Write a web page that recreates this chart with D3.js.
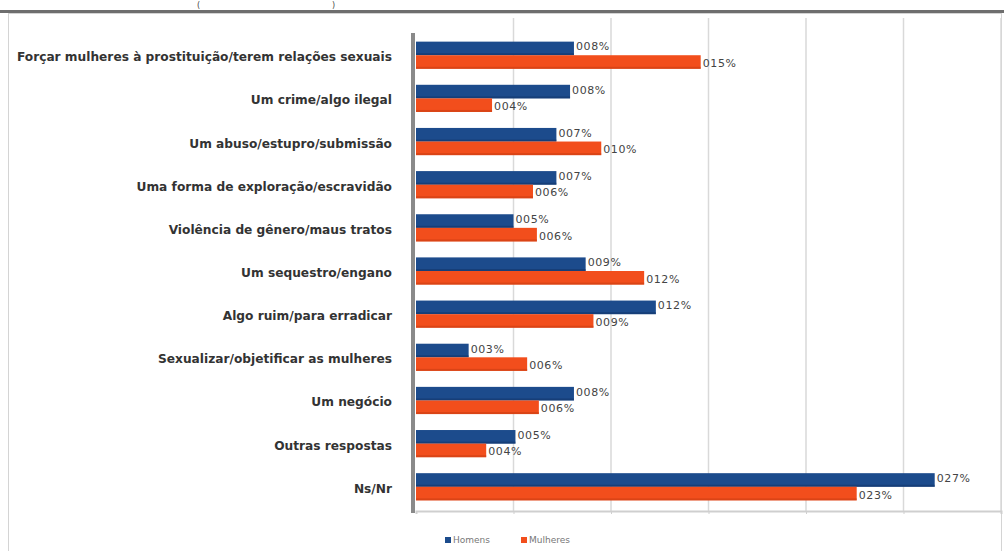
<!DOCTYPE html>
<html><head><meta charset="utf-8">
<script src="https://cdn.jsdelivr.net/npm/d3@7"></script>
<style>body{margin:0;background:#fff}svg{display:block}</style>
</head><body>
<svg id="c" width="1004" height="551"></svg>
<script>
const categories = [
  "Forçar mulheres à prostituição/terem relações sexuais",
  "Um crime/algo ilegal",
  "Um abuso/estupro/submissão",
  "Uma forma de exploração/escravidão",
  "Violência de gênero/maus tratos",
  "Um sequestro/engano",
  "Algo ruim/para erradicar",
  "Sexualizar/objetificar as mulheres",
  "Um negócio",
  "Outras respostas",
  "Ns/Nr"
];
const seriesNames = ["Homens", "Mulheres"];
const homens   = [8.1, 7.9, 7.2, 7.2, 5.0, 8.7, 12.3, 2.7, 8.1, 5.1, 26.6];
const mulheres = [14.6, 3.9, 9.5, 6.0, 6.2, 11.7, 9.1, 5.7, 6.3, 3.6, 22.6];
const homensLabels   = ["008%","008%","007%","007%","005%","009%","012%","003%","008%","005%","027%"];
const mulheresLabels = ["015%","004%","010%","006%","006%","012%","009%","006%","006%","004%","023%"];
const xTicks = [0, 5, 10, 15, 20, 25, 30];
const colors = ["#1c4b8c", "#f24e1c"];

const svg = d3.select("#c");
// frame
svg.append("rect").attr("x", 8.5).attr("y", 13.5).attr("width", 993).attr("height", 545)
  .attr("fill", "#fff").attr("stroke", "#d4d4d4");
svg.append("rect").attr("x", 0).attr("y", 10).attr("width", 1004).attr("height", 3).attr("fill", "#6e6e6e");
svg.append("text").attr("x", 197).attr("y", 8).attr("font-family", "DejaVu Sans").attr("font-size", 8).attr("fill", "#444").text("(");
svg.append("text").attr("x", 332).attr("y", 8).attr("font-family", "DejaVu Sans").attr("font-size", 8).attr("fill", "#444").text(")");

const x = d3.scaleLinear().domain([0, 30]).range([416, 1001]);
const y = d3.scaleBand().domain(categories).range([33, 509]).paddingInner(0.37).paddingOuter(0.2);
const ys = d3.scaleBand().domain(seriesNames).range([0, y.bandwidth()]);

// gridlines
svg.append("g").selectAll("line").data(xTicks.slice(1)).join("line")
  .attr("x1", d => x(d)).attr("x2", d => x(d)).attr("y1", 18).attr("y2", 511)
  .attr("stroke", "#d9d9d9").attr("stroke-width", 1.5);

// bottom axis
const ax = svg.append("g").attr("transform", "translate(0,511)")
  .call(d3.axisBottom(x).tickValues(xTicks).tickSize(3).tickFormat(""));
ax.select(".domain").attr("stroke", "#cfcfcf").attr("stroke-width", 2);
ax.selectAll(".tick line").attr("stroke", "#cfcfcf");
// left axis wall
svg.append("rect").attr("x", 411).attr("y", 33).attr("width", 4).attr("height", 480).attr("fill", "#8a8a8a");

const data = categories.map((c, i) => ({c, v: [homens[i], mulheres[i]], l: [homensLabels[i], mulheresLabels[i]]}));
const g = svg.append("g");
data.forEach(d => {
  seriesNames.forEach((s, j) => {
    const yy = y(d.c) + ys(s);
    g.append("rect").attr("x", x(0)).attr("y", yy).attr("width", x(d.v[j]) - x(0)).attr("height", ys.bandwidth())
      .attr("fill", colors[j]);
    g.append("rect").attr("x", x(0)).attr("y", yy + ys.bandwidth() - 2).attr("width", x(d.v[j]) - x(0)).attr("height", 2)
      .attr("fill", j === 0 ? "#12356a" : "#c93d12").attr("opacity", 0.6);
    g.append("text").attr("x", x(d.v[j]) + 2).attr("y", yy + ys.bandwidth() / 2 + (j === 0 ? 2 : 5))
      .attr("font-family", "DejaVu Sans").attr("font-size", 11).attr("letter-spacing", 0.6)
      .attr("fill", "#444").text(d.l[j]);
  });
});

// category labels
svg.append("g").selectAll("text").data(categories).join("text")
  .attr("x", 392).attr("y", d => y(d) + y.bandwidth() / 2 + 6)
  .attr("text-anchor", "end").attr("font-family", "DejaVu Sans").attr("font-size", 12.2)
  .attr("font-weight", "bold").attr("fill", "#333").text(d => d);

// legend
const leg = svg.append("g").attr("transform", "translate(445,540)");
seriesNames.forEach((s, i) => {
  const gx = i * 76;
  leg.append("rect").attr("x", gx).attr("y", -3).attr("width", 6).attr("height", 6).attr("fill", colors[i]);
  leg.append("text").attr("x", gx + 8).attr("y", 3).attr("font-family", "DejaVu Sans").attr("font-size", 9)
    .attr("fill", "#777").text(s);
});
</script>
</body></html>
